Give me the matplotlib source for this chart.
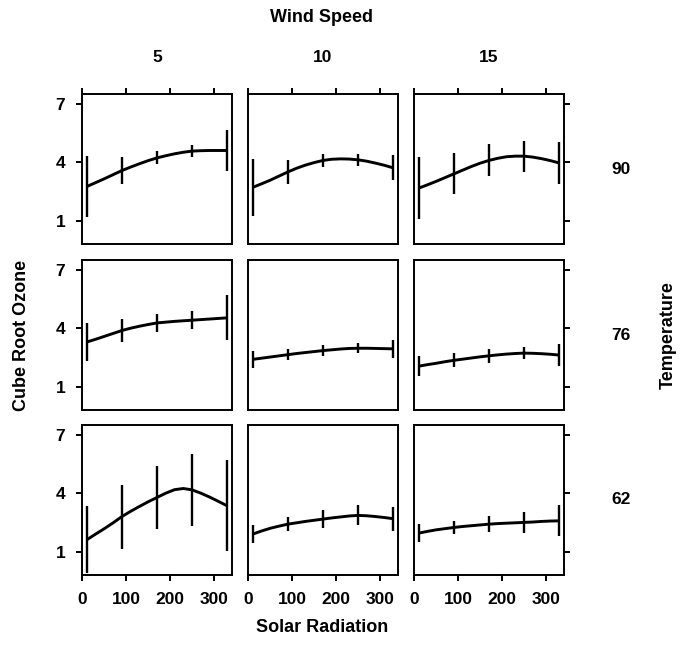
import matplotlib
matplotlib.use("Agg")
import matplotlib.pyplot as plt

plt.rcParams["font.family"] = ["Liberation Sans", "DejaVu Sans"]
plt.rcParams["font.weight"] = "bold"

# conditioning values
wind_speeds = ["5", "10", "15"]
temperatures = ["90", "76", "62"]  # top row to bottom row

# solar radiation where the bars sit, and where the curve was read
bar_x = [10, 90, 170, 250, 330]
curve_x = [10, 30, 50, 70, 90, 110, 130, 150, 170, 190, 210, 230, 250, 270, 290, 310, 330]

# fitted curve (cube root ozone), named by temperature and wind speed
curve_90_5 = [2.75, 2.95, 3.15, 3.36, 3.57, 3.75, 3.92, 4.08, 4.22, 4.33, 4.43, 4.51, 4.57, 4.59, 4.60, 4.60, 4.60]
curve_90_10 = [2.71, 2.89, 3.08, 3.29, 3.50, 3.69, 3.85, 3.98, 4.09, 4.15, 4.17, 4.16, 4.12, 4.05, 3.95, 3.84, 3.71]
curve_90_15 = [2.67, 2.84, 3.02, 3.21, 3.40, 3.59, 3.78, 3.95, 4.09, 4.20, 4.28, 4.31, 4.31, 4.26, 4.18, 4.08, 3.96]
curve_76_5 = [3.29, 3.43, 3.58, 3.73, 3.88, 4.00, 4.10, 4.19, 4.27, 4.31, 4.35, 4.38, 4.41, 4.44, 4.47, 4.50, 4.53]
curve_76_10 = [2.40, 2.46, 2.52, 2.58, 2.64, 2.70, 2.75, 2.80, 2.85, 2.89, 2.93, 2.96, 2.97, 2.97, 2.96, 2.95, 2.94]
curve_76_15 = [2.05, 2.13, 2.20, 2.28, 2.35, 2.41, 2.47, 2.53, 2.58, 2.63, 2.67, 2.70, 2.72, 2.71, 2.69, 2.66, 2.62]
curve_62_5 = [1.61, 1.90, 2.18, 2.48, 2.80, 3.07, 3.32, 3.56, 3.78, 4.00, 4.18, 4.24, 4.17, 4.00, 3.80, 3.58, 3.35]
curve_62_10 = [1.90, 2.06, 2.20, 2.31, 2.41, 2.48, 2.55, 2.61, 2.67, 2.73, 2.78, 2.83, 2.86, 2.84, 2.80, 2.75, 2.69]
curve_62_15 = [1.95, 2.04, 2.12, 2.18, 2.24, 2.29, 2.33, 2.37, 2.41, 2.44, 2.46, 2.48, 2.50, 2.52, 2.55, 2.57, 2.58]

# centre of each bar
mid_90_5 = [2.75, 3.57, 4.22, 4.57, 4.60]
mid_90_10 = [2.71, 3.50, 4.09, 4.12, 3.71]
mid_90_15 = [2.67, 3.40, 4.09, 4.31, 3.96]
mid_76_5 = [3.29, 3.88, 4.27, 4.41, 4.53]
mid_76_10 = [2.40, 2.64, 2.85, 2.97, 2.94]
mid_76_15 = [2.05, 2.35, 2.58, 2.72, 2.62]
mid_62_5 = [1.61, 2.80, 3.78, 4.17, 3.35]
mid_62_10 = [1.90, 2.41, 2.67, 2.86, 2.69]
mid_62_15 = [1.95, 2.24, 2.41, 2.50, 2.58]

# half length of each bar
half_90_5 = [1.57, 0.69, 0.33, 0.30, 1.06]
half_90_10 = [1.47, 0.62, 0.33, 0.30, 0.65]
half_90_15 = [1.60, 1.05, 0.82, 0.80, 1.10]
half_76_5 = [1.00, 0.60, 0.47, 0.47, 1.15]
half_76_10 = [0.44, 0.27, 0.27, 0.25, 0.47]
half_76_15 = [0.50, 0.36, 0.36, 0.30, 0.55]
half_62_5 = [1.72, 1.64, 1.64, 1.83, 2.34]
half_62_10 = [0.45, 0.36, 0.45, 0.51, 0.62]
half_62_15 = [0.46, 0.33, 0.42, 0.55, 0.79]

curves = [[curve_90_5, curve_90_10, curve_90_15],
          [curve_76_5, curve_76_10, curve_76_15],
          [curve_62_5, curve_62_10, curve_62_15]]
mids = [[mid_90_5, mid_90_10, mid_90_15],
        [mid_76_5, mid_76_10, mid_76_15],
        [mid_62_5, mid_62_10, mid_62_15]]
halves = [[half_90_5, half_90_10, half_90_15],
          [half_76_5, half_76_10, half_76_15],
          [half_62_5, half_62_10, half_62_15]]

x_ticks = [0, 100, 200, 300]
y_ticks = [1, 4, 7]

W, H = 686, 655
fig = plt.figure(figsize=(W / 100, H / 100), dpi=100)

col_left = [82, 248, 414]
row_top = [94, 260, 425]
size = 150

for r in range(3):
    for c in range(3):
        ax = fig.add_axes([col_left[c] / W, 1 - (row_top[r] + size) / H, size / W, size / H])
        ax.plot(curve_x, curves[r][c], color="black", lw=2.1,
                solid_joinstyle="round", solid_capstyle="butt")
        lo = [m - h for m, h in zip(mids[r][c], halves[r][c])]
        hi = [m + h for m, h in zip(mids[r][c], halves[r][c])]
        ax.vlines(bar_x, lo, hi, color="black", lw=1.7)
        ax.set_xlim(-1, 341)
        ax.set_ylim(-0.2, 7.5)
        for s in ax.spines.values():
            s.set_linewidth(1.4)

        ax.set_xticks(x_ticks)
        ax.set_yticks(y_ticks)
        ax.tick_params(direction="out", length=4, width=1.4, labelsize=12.5,
                       bottom=(r == 2), labelbottom=(r == 2),
                       top=(r == 0), labeltop=False,
                       left=(c == 0), labelleft=(c == 0),
                       right=(c == 2), labelright=False)
        ax.tick_params(axis="x", pad=8)
        ax.tick_params(axis="y", pad=8)
        for lab in ax.get_xticklabels() + ax.get_yticklabels():
            lab.set_fontweight("bold")

        if r == 0:
            ax.text(0.5, 1.0 + 36 / size, wind_speeds[c], transform=ax.transAxes,
                    ha="center", va="center", fontsize=12.5, fontweight="bold")
        if c == 2:
            ax.text(1.0 + 57 / size, 0.5, temperatures[r], transform=ax.transAxes,
                    ha="center", va="center", fontsize=12.5, fontweight="bold")

fig.text(322 / W, 1 - 18 / H, "Wind Speed", ha="center", va="center",
         fontsize=13, fontweight="bold")
fig.text(322 / W, 1 - 628 / H, "Solar Radiation", ha="center", va="center",
         fontsize=13, fontweight="bold")
fig.text(22 / W, 1 - 335 / H, "Cube Root Ozone", ha="center", va="center",
         rotation=90, fontsize=13, fontweight="bold")
fig.text(668 / W, 1 - 335 / H, "Temperature", ha="center", va="center",
         rotation=90, fontsize=13, fontweight="bold")

fig.savefig("out.png", dpi=100, facecolor="white")
